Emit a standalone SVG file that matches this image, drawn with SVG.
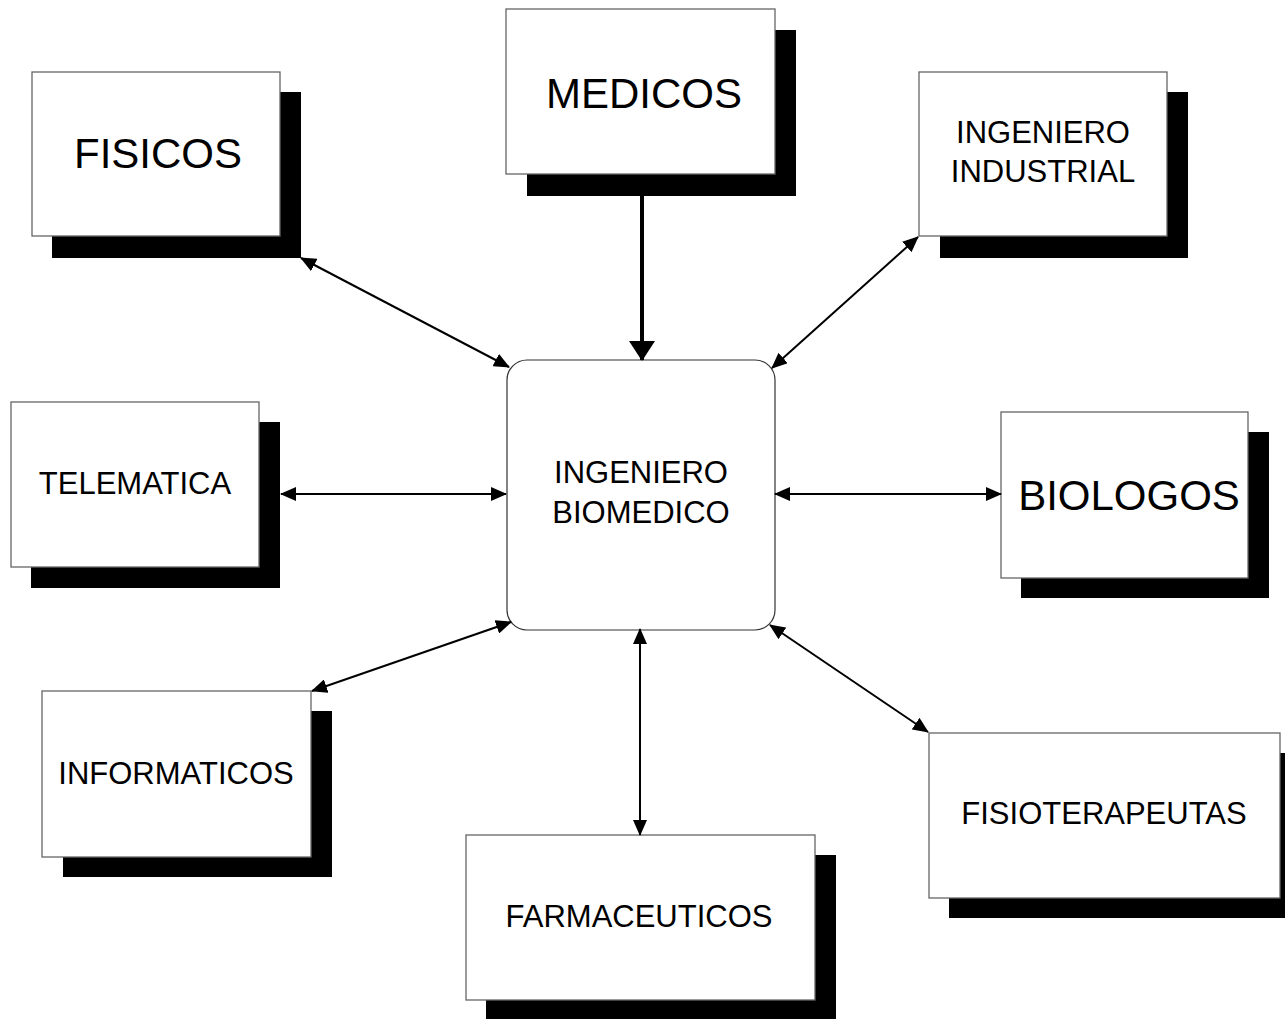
<svg xmlns="http://www.w3.org/2000/svg" width="1285" height="1019" viewBox="0 0 1285 1019">
<style>
.box{fill:#fff;stroke:#666;stroke-width:1.3}
.sh{fill:#000}
.t{font-family:"Liberation Sans",Arial,sans-serif;fill:#000;text-anchor:middle}
.big{font-size:42px}
.sm{font-size:31px}
.c{fill:none;stroke:#000;stroke-width:2}
</style>
<defs>
<marker id="a" markerUnits="userSpaceOnUse" viewBox="0 0 16 14" refX="15" refY="7" markerWidth="16" markerHeight="14" orient="auto-start-reverse"><path d="M0,0 L16,7 L0,14 z" fill="#000"/></marker>
<marker id="b" markerUnits="userSpaceOnUse" viewBox="0 0 20 26" refX="19" refY="13" markerWidth="20" markerHeight="26" orient="auto"><path d="M0,0 L20,13 L0,26 z" fill="#000"/></marker>
</defs>
<rect width="1285" height="1019" fill="#fff"/>
<g id="fisicos"><rect class="sh" x="52" y="92" width="249" height="166"/><rect class="box" x="32" y="72" width="248" height="164"/><text class="t big" x="158" y="168">FISICOS</text></g>
<g id="medicos"><rect class="sh" x="527" y="30" width="269" height="166"/><rect class="box" x="506" y="9" width="269" height="165"/><text class="t big" x="644" y="108">MEDICOS</text></g>
<g id="industrial"><rect class="sh" x="940" y="92" width="248" height="166"/><rect class="box" x="919" y="72" width="248" height="164"/><text class="t sm" x="1043" y="143">INGENIERO</text><text class="t sm" x="1043" y="182">INDUSTRIAL</text></g>
<g id="telematica"><rect class="sh" x="31" y="422" width="249" height="166"/><rect class="box" x="11" y="402" width="248" height="165"/><text class="t sm" x="135" y="494">TELEMATICA</text></g>
<g id="biologos"><rect class="sh" x="1021" y="432" width="248" height="166"/><rect class="box" x="1001" y="412" width="247" height="166"/><text class="t big" x="1129" y="510">BIOLOGOS</text></g>
<g id="informaticos"><rect class="sh" x="63" y="711" width="269" height="166"/><rect class="box" x="42" y="691" width="269" height="166"/><text class="t sm" x="176" y="784">INFORMATICOS</text></g>
<g id="farmaceuticos"><rect class="sh" x="486" y="855" width="350" height="165"/><rect class="box" x="466" y="835" width="349" height="165"/><text class="t sm" x="639" y="927">FARMACEUTICOS</text></g>
<g id="fisioterapeutas"><rect class="sh" x="949" y="753" width="352" height="165"/><rect class="box" x="929" y="733" width="351" height="165"/><text class="t sm" x="1104" y="824">FISIOTERAPEUTAS</text></g>
<g id="biomedico"><rect x="507" y="360" width="268" height="270" rx="20" fill="#fff" stroke="#333" stroke-width="1.2"/><text class="t sm" x="641" y="483">INGENIERO</text><text class="t sm" x="641" y="523">BIOMEDICO</text></g>
<g id="connectors">
<line class="c" x1="301" y1="258" x2="509" y2="367" marker-start="url(#a)" marker-end="url(#a)"/>
<line x1="642" y1="196" x2="642" y2="360" stroke="#000" stroke-width="4" marker-end="url(#b)"/>
<line class="c" x1="918" y1="237" x2="772" y2="368" marker-start="url(#a)" marker-end="url(#a)"/>
<line class="c" x1="281" y1="494" x2="506" y2="494" marker-start="url(#a)" marker-end="url(#a)"/>
<line class="c" x1="775" y1="494" x2="1001" y2="494" marker-start="url(#a)" marker-end="url(#a)"/>
<line class="c" x1="312" y1="691" x2="511" y2="622" marker-start="url(#a)" marker-end="url(#a)"/>
<line class="c" x1="640" y1="629" x2="640" y2="835" marker-start="url(#a)" marker-end="url(#a)"/>
<line class="c" x1="770" y1="625" x2="928" y2="732" marker-start="url(#a)" marker-end="url(#a)"/>
</g>
</svg>
